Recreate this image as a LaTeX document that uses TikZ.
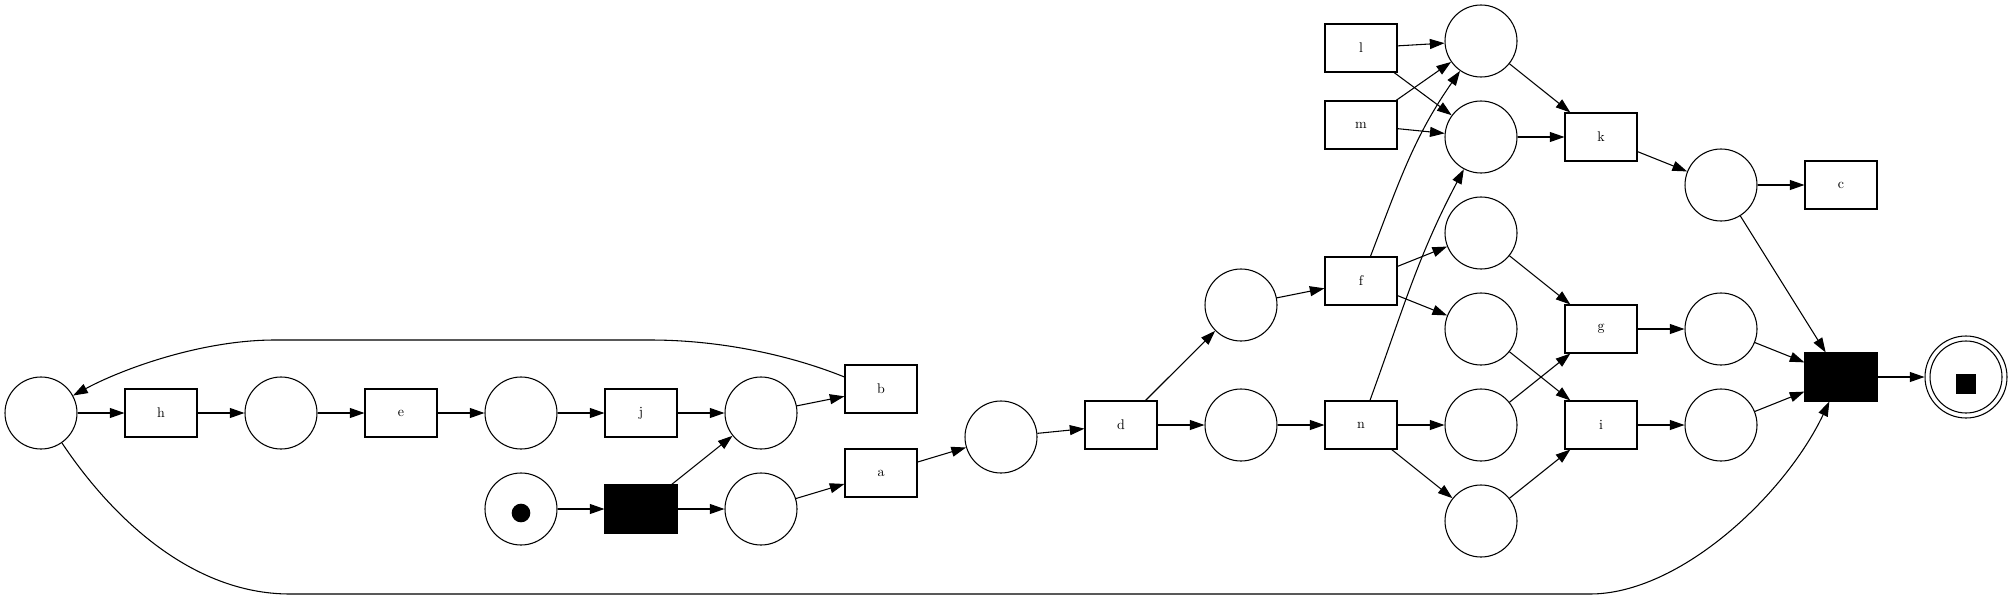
\documentclass[tikz,border=0pt]{standalone}
\usetikzlibrary{arrows.meta}
\begin{document}
\begin{tikzpicture}[x=0.75pt,y=-0.75pt,
  every node/.style={font=\fontsize{10.5}{12}\selectfont},
  place/.style={draw,circle,minimum size=54pt,inner sep=0pt,line width=0.8pt},
  trans/.style={draw,rectangle,minimum width=54pt,minimum height=36pt,inner sep=0pt,line width=0.8pt},
  blk/.style={trans,fill=black},
  arr/.style={-{Triangle[length=11pt,width=7.5pt]},line width=0.8pt}]
\useasboundingbox (0,0) rectangle (2013,600);
% places
\node[place] (p0) at (41,413) {};
\node[place] (p1) at (281,413) {};
\node[place] (p2) at (521,413) {};
\node[place] (p3) at (761,413) {};
\node[place] (s0) at (521,509) {};
\node[place] (p4) at (761,509) {};
\node[place] (p5) at (1001,437) {};
\node[place] (p6) at (1241,305) {};
\node[place] (p7) at (1241,425) {};
\node[place] (q1) at (1481,41) {};
\node[place] (q2) at (1481,137) {};
\node[place] (q3) at (1481,233) {};
\node[place] (q4) at (1481,329) {};
\node[place] (q5) at (1481,425) {};
\node[place] (q6) at (1481,521) {};
\node[place] (r1) at (1721,185) {};
\node[place] (r2) at (1721,329) {};
\node[place] (r3) at (1721,425) {};
\node[place,minimum size=61.5pt] (fin) at (1966,377) {};
\node[place] (fininner) at (fin) {};
% tokens
\node[circle,fill=black,minimum size=14pt,inner sep=0pt] (tok1) at (521,513) {};
\node[rectangle,fill=black,minimum size=14.5pt,inner sep=0pt] (tok2) at (1966,384) {};
% transitions
\node[trans] (h) at (161,413) {h};
\node[trans] (e) at (401,413) {e};
\node[trans] (j) at (641,413) {j};
\node[trans] (b) at (881,389) {b};
\node[blk] (t0) at (641,509) {};
\node[trans] (a) at (881,473) {a};
\node[trans] (d) at (1121,425) {d};
\node[trans] (f) at (1361,281) {f};
\node[trans] (n) at (1361,425) {n};
\node[trans] (l) at (1361,48) {l};
\node[trans] (m) at (1361,125) {m};
\node[trans] (k) at (1601,137) {k};
\node[trans] (g) at (1601,329) {g};
\node[trans] (i) at (1601,425) {i};
\node[trans] (c) at (1841,185) {c};
\node[blk] (tE) at (1841,377) {};
% arcs
\draw[arr] (p0) -- (h);
\draw[arr] (h) -- (p1);
\draw[arr] (p1) -- (e);
\draw[arr] (e) -- (p2);
\draw[arr] (p2) -- (j);
\draw[arr] (j) -- (p3);
\draw[arr] (p3) -- (b);
\draw[arr] ([yshift=9pt]b.west) .. controls (790,355) and (720,340) .. (650,340) -- (275,340) .. controls (200,340) and (120,370) .. (p0);
\draw[arr] (s0) -- (t0);
\draw[arr] (t0) -- (p3);
\draw[arr] (t0) -- (p4);
\draw[arr] (p4) -- (a);
\draw[arr] (a) -- (p5);
\draw[arr] (p5) -- (d);
\draw[arr] (d) -- (p6);
\draw[arr] (d) -- (p7);
\draw[arr] (p6) -- (f);
\draw[arr] (p7) -- (n);
\draw[arr] (f) to[out=69,in=-125] (q1);
\draw[arr] (f) -- (q3);
\draw[arr] (f) -- (q4);
\draw[arr] (n) to[out=70,in=-118] (q2);
\draw[arr] (n) -- (q5);
\draw[arr] (n) -- (q6);
\draw[arr] (l) -- (q1);
\draw[arr] (l) -- (q2);
\draw[arr] (m) -- (q1);
\draw[arr] (m) -- (q2);
\draw[arr] (q1) -- (k);
\draw[arr] (q2) -- (k);
\draw[arr] (k) -- (r1);
\draw[arr] (r1) -- (c);
\draw[arr] (r1) -- (tE);
\draw[arr] (q3) -- (g);
\draw[arr] (q4) -- (i);
\draw[arr] (q5) -- (g);
\draw[arr] (q6) -- (i);
\draw[arr] (g) -- (r2);
\draw[arr] (i) -- (r3);
\draw[arr] (r2) -- (tE);
\draw[arr] (r3) -- (tE);
\draw[arr] (tE) -- (fin);
\draw[arr] (p0.-55) .. controls (110,515) and (190,594) .. (290,594) -- (1590,594) .. controls (1680,594) and (1785,495) .. (tE);
\end{tikzpicture}
\end{document}
